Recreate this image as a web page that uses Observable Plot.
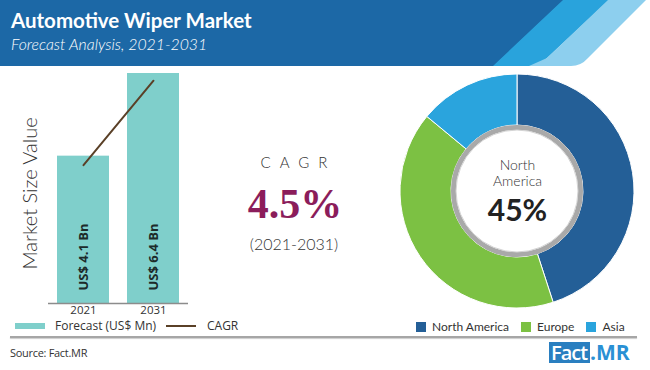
<!DOCTYPE html>
<html><head><meta charset="utf-8">
<script src="https://cdn.jsdelivr.net/npm/d3@7"></script>
<script src="https://cdn.jsdelivr.net/npm/@observablehq/plot@0.6"></script>
<style>
html,body{margin:0;padding:0;background:#fff;}
#root{position:relative;width:650px;height:370px;overflow:hidden;background:#fff;font-family:Lato,"Open Sans",sans-serif;color:#333;}
#root > *{position:absolute;}
</style></head><body><div id="root"></div>
<script>
// ---- data ----
const title = "Automotive Wiper Market";
const subtitle = "Forecast Analysis, 2021-2031";
const years = ["2021", "2031"];
const marketValues = [4.1, 6.4];          // US$ Bn
const cagrTrend = [3.85, 6.2];            // trend line as drawn over bars
const cagrLabel = "CAGR";
const cagrValue = "4.5%";
const cagrPeriod = "(2021-2031)";
const regions = ["North America", "Europe", "Asia"];
const regionShares = [45, 41, 14];
const regionColors = ["#245f97", "#7cc143", "#2aa4dd"];
const yLabel = "Market Size Value";
const barLegend = "Forecast (US$ Mn)";
const sourceText = "Source: Fact.MR";

const root = document.getElementById("root");

// ---- header ----
const header = document.createElementNS("http://www.w3.org/2000/svg", "svg");
header.setAttribute("width", 650); header.setAttribute("height", 70);
header.style.left = "0px"; header.style.top = "0px";
header.innerHTML = `
<path d="M0,0H564L494,66H0Z" fill="#1c68a6"/>
<path d="M563,0H609L547,58Q540,66 530,66H493Z" fill="#29a3dc"/>
<path d="M608,0H646L588,58Q581,66 571,66H529L547,58Z" fill="#8dcfee"/>
<text x="11" y="28" fill="#fff" font-family="Lato" font-weight="700" font-size="20.5">${title}</text>
<text x="11" y="50" fill="#fff" font-family="Lato" font-style="italic" font-weight="300" font-size="15.8">${subtitle}</text>`;
root.appendChild(header);

// ---- bar chart ----
const barData = years.map((y, i) => ({year: y, value: marketValues[i]}));
const lineData = years.map((y, i) => ({year: y, value: cagrTrend[i]}));
const bars = Plot.plot({
  width: 200, height: 265,
  marginLeft: 48, marginRight: 12, marginTop: 7, marginBottom: 28,
  x: {domain: years, paddingInner: 0.262, paddingOuter: 0.124, tickSize: 0, tickPadding: 2, label: null},
  y: {domain: [0, 6.4], axis: null},
  style: {fontFamily: "'Open Sans'", fontSize: "11.5px", color: "#333", background: "transparent", overflow: "visible"},
  marks: [
    Plot.barY(barData, {x: "year", y: "value", fill: "#7fcfcb"}),
    Plot.ruleY([0], {stroke: "#8c8c8c", strokeWidth: 1.5}),
    Plot.line(lineData, {x: "year", y: "value", stroke: "#5a4027", strokeWidth: 2}),
    Plot.text(barData, {x: "year", y: 0, text: d => `US$ ${d.value} Bn`, rotate: -90, textAnchor: "start", lineAnchor: "middle", dy: -13, fill: "#1d2a2a", fontWeight: "bold", fontSize: 13}),
    Plot.text([yLabel], {frameAnchor: "left", text: d => d, rotate: -90, textAnchor: "middle", lineAnchor: "middle", dx: -18, dy: 5, fontSize: 20, fontFamily: "Lato", fontWeight: 300, fill: "#333"})
  ]
});
bars.style.left = "0px"; bars.style.top = "66px";
root.appendChild(bars);

// ---- CAGR block ----
const cagr = document.createElementNS("http://www.w3.org/2000/svg", "svg");
cagr.setAttribute("width", 170); cagr.setAttribute("height", 120);
cagr.style.left = "210px"; cagr.style.top = "145px";
cagr.innerHTML = `
<text x="88.5" y="23" text-anchor="middle" font-family="Lato" font-weight="300" font-size="15" letter-spacing="9" fill="#333">${cagrLabel}</text>
<text x="85" y="73" text-anchor="middle" font-family="'Liberation Serif'" font-weight="700" font-size="42" fill="#8b1d5b">${cagrValue}</text>
<text x="84" y="105" text-anchor="middle" font-family="Lato" font-weight="300" font-size="16" fill="#333">${cagrPeriod}</text>`;
root.appendChild(cagr);

// ---- donut ----
const pieData = regions.map((r, i) => ({region: r, share: regionShares[i]}));
const donutMark = (index, scales, values, dims) => {
  const color = (scales && scales.color) || d3.scaleOrdinal(regions, regionColors);
  const cx = (dims.marginLeft + dims.width - dims.marginRight) / 2;
  const cy = (dims.marginTop + dims.height - dims.marginBottom) / 2;
  const arcs = d3.pie().sort(null).value(d => d.share)(pieData);
  const arc = d3.arc().innerRadius(66).outerRadius(117);
  const g = d3.create("svg:g").attr("transform", `translate(${cx},${cy})`);
  g.selectAll("path").data(arcs).join("path")
    .attr("d", arc).attr("fill", d => color(d.data.region))
    .attr("stroke", "#fff").attr("stroke-width", 1);
  g.append("circle").attr("r", 63.5).attr("fill", "#fff").attr("stroke", "#a9a9a9").attr("stroke-width", 5);
  g.append("circle").attr("r", 61).attr("fill", "none").attr("stroke", "#d4d4d4").attr("stroke-width", 1);
  return g.node();
};
const donut = Plot.plot({
  width: 270, height: 250, margin: 0,
  color: {domain: regions, range: regionColors},
  style: {background: "transparent", overflow: "visible"},
  marks: [
    Plot.dot(pieData, {fill: "region", r: 0, frameAnchor: "middle"}),
    donutMark,
    Plot.text([pieData[0]], {frameAnchor: "middle", text: d => d.region.replace(" ", "\n"), dy: -19, fontSize: 14, lineHeight: 1.15, fontFamily: "Lato", fontWeight: 300, fill: "#333"}),
    Plot.text([pieData[0]], {frameAnchor: "middle", text: d => `${d.share}%`, dy: 20, fontSize: 30, fontWeight: "bold", fontFamily: "Lato", fill: "#222"})
  ]
});
donut.style.left = "382px"; donut.style.top = "66px";
root.appendChild(donut);

// ---- legends ----
const leg1 = document.createElement("div");
leg1.style.cssText = "left:0;top:320px;width:300px;height:14px;font:12px/12px 'Open Sans';color:#333;";
leg1.innerHTML = `
<span style="position:absolute;left:15px;top:3px;width:30px;height:6px;background:#7fcfcb"></span>
<span style="position:absolute;left:55px;top:0px;">${barLegend}</span>
<span style="position:absolute;left:166px;top:5px;width:30px;height:2px;background:#5a4027"></span>
<span style="position:absolute;left:207px;top:0px;">${cagrLabel}</span>`;
root.appendChild(leg1);

const leg2 = donut.legend("color", {swatchSize: 10, style: {fontFamily: "Lato", fontSize: "12px", color: "#333", background: "transparent"}});
leg2.style.position = "absolute"; leg2.style.left = "416px"; leg2.style.top = "310px";
root.appendChild(leg2);

// ---- footer ----
const rule = document.createElement("div");
rule.style.cssText = "left:10px;top:336px;width:627px;height:2px;background:#a6a6a6;box-shadow:0 1px 1px #ccc;";
root.appendChild(rule);

const foot = document.createElementNS("http://www.w3.org/2000/svg", "svg");
foot.setAttribute("width", 650); foot.setAttribute("height", 36);
foot.style.left = "0px"; foot.style.top = "334px";
foot.style.overflow = "visible";
foot.innerHTML = `
<text x="10" y="23" font-family="'Open Sans'" font-size="11" fill="#333" letter-spacing="-0.3">${sourceText}</text>
<rect x="549" y="8" width="41" height="21" fill="#2a7fc0"/>
<text x="551" y="26" font-family="'Open Sans'" font-weight="600" font-size="20" letter-spacing="-1" fill="#fff">Fact</text>
<text x="590" y="26" font-family="'Open Sans'" font-weight="700" font-size="21" fill="#2a90d4">.MR</text>`;
root.appendChild(foot);
</script>
</body></html>
